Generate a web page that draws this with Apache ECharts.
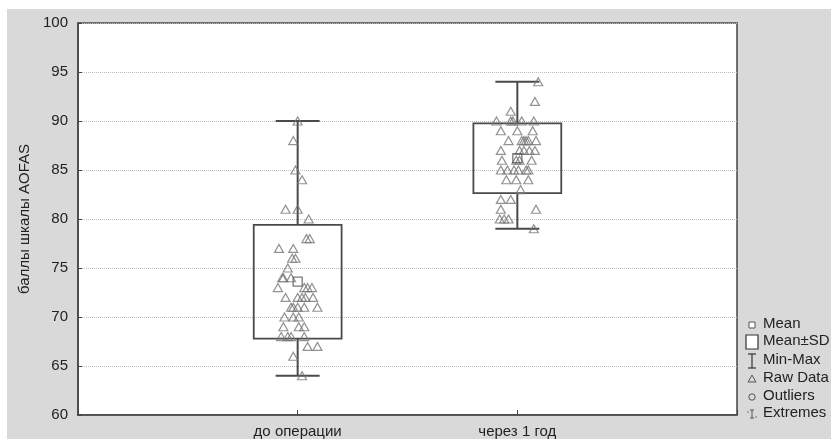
<!DOCTYPE html>
<html>
<head>
<meta charset="utf-8">
<script src="https://cdn.jsdelivr.net/npm/echarts@6/dist/echarts.min.js"></script>
<style>
html,body{margin:0;padding:0;background:#fff;}
#container{width:831px;height:439px;}
</style>
</head>
<body>
<div id="container"></div>
<script type="text/javascript">
	// groups on the x axis (value axis, positions 1 and 2)
	var categories = ['до операции', 'через 1 год'];
	var yTicks = [60, 65, 70, 75, 80, 85, 90, 95, 100];

	// raw AOFAS scores, with the horizontal jitter of each triangle
	var before = [90, 88, 85, 84, 81, 81, 80, 78, 78, 77, 77, 76, 76, 75, 74, 74, 74,
		73, 73, 73, 73, 72, 72, 72, 72, 72, 71, 71, 71, 71, 71, 70, 70, 70,
		69, 69, 69, 68, 68, 68, 68, 67, 67, 66, 64];
	var beforeJitter = [0, -0.02, -0.01, 0.02, -0.055, 0, 0.05, 0.04, 0.055, -0.085, -0.02, -0.025, -0.01, -0.045, -0.07, -0.065, -0.03,
		-0.09, 0.03, 0.045, 0.065, -0.055, 0, 0.02, 0.035, 0.07, -0.03, -0.02, 0, 0.03, 0.09, -0.06, -0.02, 0.005,
		-0.065, 0.005, 0.03, -0.075, -0.045, -0.03, 0.03, 0.045, 0.09, -0.02, 0.02];
	var after = [94, 92, 91, 90, 90, 90, 90, 90, 89, 89, 89, 88, 88, 88, 88, 88, 88,
		87, 87, 87, 87, 87, 86, 86, 86, 86, 85, 85, 85, 85, 85, 85, 84, 84, 84,
		83, 82, 82, 81, 81, 80, 80, 80, 79];
	var afterJitter = [0.095, 0.08, -0.03, -0.095, -0.03, -0.02, 0.02, 0.075, -0.075, 0, 0.07, -0.04, 0.02, 0.03, 0.04, 0.05, 0.085,
		-0.075, 0.01, 0.03, 0.055, 0.08, -0.07, -0.005, 0.01, 0.065, -0.075, -0.045, -0.015, 0.005, 0.04, 0.05, -0.05, -0.005, 0.05,
		0.015, -0.075, -0.03, -0.075, 0.085, -0.08, -0.06, -0.04, 0.075];

	// summary per group
	var meanVals = [73.6, 86.2];
	var sdVals = [5.8, 3.55];
	var minVals = [64, 79];
	var maxVals = [90, 94];

	var boxData = categories.map(function (c, i) {
		return [i + 1, meanVals[i] - sdVals[i], meanVals[i] + sdVals[i], minVals[i], maxVals[i]];
	});
	var meanData = categories.map(function (c, i) { return [i + 1, meanVals[i]]; });
	var rawData = [];
	before.forEach(function (v, i) { rawData.push([1 + beforeJitter[i], v]); });
	after.forEach(function (v, i) { rawData.push([2 + afterJitter[i], v]); });

	var lineColor = '#4a4a4a';

	function renderBox(params, api) {
		var c = api.value(0), lo = api.value(1), hi = api.value(2), mn = api.value(3), mx = api.value(4);
		var tl = api.coord([c - 0.2, hi]), br = api.coord([c + 0.2, lo]);
		var top = api.coord([c, mx]), bot = api.coord([c, mn]);
		var capL = api.coord([c - 0.1, mx]), capR = api.coord([c + 0.1, mx]);
		var capL2 = api.coord([c - 0.1, mn]), capR2 = api.coord([c + 0.1, mn]);
		var lineStyle = { stroke: lineColor, lineWidth: 2, fill: null };
		return {
			type: 'group',
			children: [
				{ type: 'rect', shape: { x: tl[0], y: tl[1], width: br[0] - tl[0], height: br[1] - tl[1] },
					style: { stroke: lineColor, lineWidth: 1.8, fill: null } },
				{ type: 'line', shape: { x1: top[0], y1: top[1], x2: top[0], y2: tl[1] }, style: lineStyle },
				{ type: 'line', shape: { x1: bot[0], y1: br[1], x2: bot[0], y2: bot[1] }, style: lineStyle },
				{ type: 'line', shape: { x1: capL[0], y1: capL[1], x2: capR[0], y2: capR[1] }, style: lineStyle },
				{ type: 'line', shape: { x1: capL2[0], y1: capL2[1], x2: capR2[0], y2: capR2[1] }, style: lineStyle }
			]
		};
	}

	// legend on the right, drawn by hand
	var lx = 752, ly = [325, 342, 361, 379, 397, 414];
	var legendNames = ['Mean', 'Mean±SD', 'Min-Max', 'Raw Data', 'Outliers', 'Extremes'];
	var legendGraphics = [
		{ type: 'rect', z: -100, shape: { x: 7, y: 9, width: 824, height: 430 }, style: { fill: '#d9d9d9' } },
		{ type: 'rect', shape: { x: lx - 3, y: ly[0] - 3, width: 6, height: 6 }, style: { fill: '#fff', stroke: '#555', lineWidth: 1 } },
		{ type: 'rect', shape: { x: lx - 6, y: ly[1] - 7, width: 12, height: 14 }, style: { fill: '#fff', stroke: '#333', lineWidth: 1.2 } },
		{ type: 'polyline', shape: { points: [[lx - 4, ly[2] - 7], [lx + 4, ly[2] - 7]] }, style: { stroke: '#333', lineWidth: 1.2 } },
		{ type: 'polyline', shape: { points: [[lx, ly[2] - 7], [lx, ly[2] + 7]] }, style: { stroke: '#333', lineWidth: 1.2 } },
		{ type: 'polyline', shape: { points: [[lx - 4, ly[2] + 7], [lx + 4, ly[2] + 7]] }, style: { stroke: '#333', lineWidth: 1.2 } },
		{ type: 'polygon', shape: { points: [[lx, ly[3] - 4], [lx + 4, ly[3] + 3], [lx - 4, ly[3] + 3]] }, style: { fill: 'none', stroke: '#555', lineWidth: 1 } },
		{ type: 'circle', shape: { cx: lx, cy: ly[4], r: 3.2 }, style: { fill: 'none', stroke: '#555', lineWidth: 1 } },
		{ type: 'polyline', shape: { points: [[lx - 2, ly[5] - 4], [lx + 2, ly[5] - 4]] }, style: { stroke: '#555', lineWidth: 1 } },
		{ type: 'polyline', shape: { points: [[lx, ly[5] - 4], [lx, ly[5] + 4]] }, style: { stroke: '#555', lineWidth: 1 } },
		{ type: 'polyline', shape: { points: [[lx - 2, ly[5] + 4], [lx + 2, ly[5] + 4]] }, style: { stroke: '#555', lineWidth: 1 } },
		{ type: 'circle', shape: { cx: lx - 4, cy: ly[5] - 2, r: 0.7 }, style: { fill: '#555' } },
		{ type: 'circle', shape: { cx: lx + 4, cy: ly[5] + 3, r: 0.7 }, style: { fill: '#555' } }
	];
	legendNames.forEach(function (n, i) {
		legendGraphics.push({
			type: 'text', left: lx + 11, top: ly[i] - 9,
			style: { text: n, fill: '#222', font: '15px "Liberation Sans", Arial, sans-serif' }
		});
	});

	var myChart = echarts.init(document.getElementById('container'));
	var option = {
		animation: false,
		backgroundColor: '#fff',
		textStyle: { fontFamily: '"Liberation Sans", Arial, sans-serif' },
		graphic: legendGraphics,
		grid: {
			left: 78, right: 94, top: 23, bottom: 23,
			show: true, backgroundColor: '#fff', borderColor: '#444', borderWidth: 1.5
		},
		xAxis: {
			type: 'value', min: 0, max: 3, interval: 1,
			axisLine: { show: true, lineStyle: { color: '#444', width: 1.5 } },
			axisTick: { show: true, inside: true, length: 5, lineStyle: { color: '#444' } },
			splitLine: { show: false },
			axisLabel: {
				color: '#222', fontSize: 15, margin: 9,
				formatter: function (v) { return categories[v - 1] || ''; }
			}
		},
		yAxis: {
			type: 'value', min: yTicks[0], max: yTicks[yTicks.length - 1], interval: 5,
			name: 'баллы шкалы AOFAS', nameLocation: 'middle', nameGap: 33,
			nameTextStyle: { color: '#222', fontSize: 15 },
			axisLine: { show: true, lineStyle: { color: '#444', width: 1.5 } },
			axisTick: { show: true, inside: true, length: 4, lineStyle: { color: '#444' } },
			axisLabel: { color: '#222', fontSize: 15, margin: 10 },
			splitLine: { show: true, lineStyle: { color: '#bdbdbd', type: 'dotted', width: 1 } }
		},
		series: [
			{
				type: 'custom',
				renderItem: renderBox,
				data: boxData,
				z: 3
			},
			{
				type: 'scatter',
				data: rawData,
				symbol: 'triangle',
				symbolSize: [9, 8],
				itemStyle: { color: 'rgba(0,0,0,0)', borderColor: '#777', borderWidth: 1.2 },
				z: 4
			},
			{
				type: 'scatter',
				data: meanData,
				symbol: 'rect',
				symbolSize: 9,
				itemStyle: { color: 'rgba(0,0,0,0)', borderColor: '#555', borderWidth: 1.3 },
				z: 5
			}
		]
	};
	myChart.setOption(option);
</script>
</body>
</html>
